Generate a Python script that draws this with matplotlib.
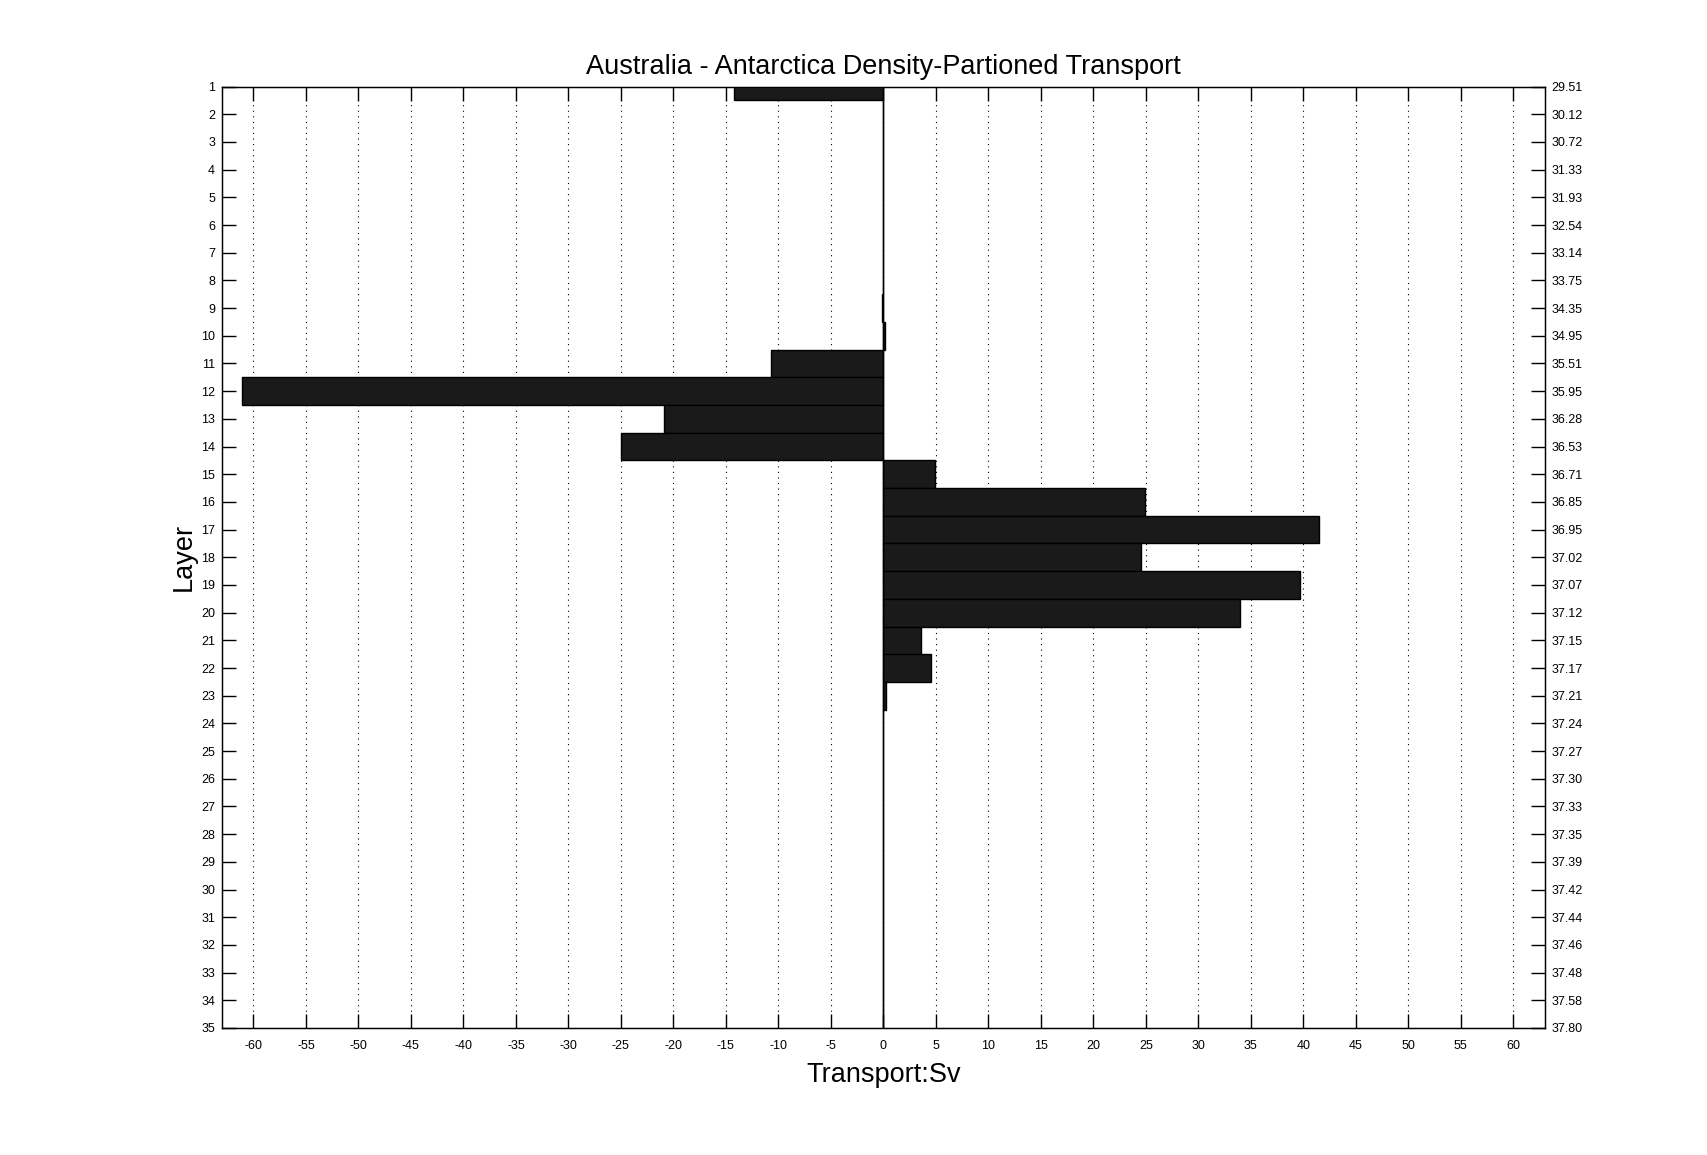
import numpy as np
import matplotlib
matplotlib.use("Agg")
import matplotlib.pyplot as plt

plt.rcParams['font.family'] = ['Liberation Sans', 'DejaVu Sans']
plt.rcParams['axes.unicode_minus'] = False

# layers 1..35 and transport per layer (Sv)
layers = np.arange(1, 36)
transport = [-14.2, 0, 0, 0, 0, 0, 0, 0, -0.1, 0.12,
             -10.7, -61.1, -20.9, -25.0, 4.9, 24.9, 41.5, 24.5, 39.7, 34.0,
             3.55, 4.5, 0.28, 0, 0, 0, 0, 0, 0, 0,
             0, 0, 0, 0, 0]
density_labels = ['29.51', '30.12', '30.72', '31.33', '31.93', '32.54', '33.14',
                  '33.75', '34.35', '34.95', '35.51', '35.95', '36.28', '36.53',
                  '36.71', '36.85', '36.95', '37.02', '37.07', '37.12', '37.15',
                  '37.17', '37.21', '37.24', '37.27', '37.30', '37.33', '37.35',
                  '37.39', '37.42', '37.44', '37.46', '37.48', '37.58', '37.80']
xticks = np.arange(-60, 61, 5)

fig = plt.figure(figsize=(17.07, 11.55), dpi=100)
ax = fig.add_axes([0.13, 0.11, 0.775, 0.815])

ax.barh(layers, transport, height=1.0, color='#1a1a1a', edgecolor='black',
        linewidth=1.0, zorder=3)
ax.axvline(0, color='black', linewidth=1.0, zorder=4)

ax.set_xlim(-63, 63)
ax.set_ylim(35, 1)
ax.set_xticks(xticks)
ax.set_yticks(layers)
ax.xaxis.grid(True, linestyle=(0, (1, 4)), color='black', linewidth=0.8)
ax.set_axisbelow(True)

ax.tick_params(axis='both', direction='in', length=10, width=1,
               labelsize=9, top=True)
ax.tick_params(axis='x', pad=9)
ax.tick_params(axis='y', pad=5)
for s in ax.spines.values():
    s.set_linewidth(1.0)

ax2 = ax.twinx()
ax2.set_ylim(35, 1)
ax2.set_yticks(layers)
ax2.set_yticklabels(density_labels)
ax2.tick_params(axis='y', direction='in', length=10, width=1, labelsize=9, pad=5)

ax.set_title('Australia - Antarctica Density-Partioned Transport', fontsize=19.5, pad=9)
ax.set_xlabel('Transport:Sv', fontsize=19.5, labelpad=7)
ax.set_ylabel('Layer', fontsize=19.5, labelpad=3)

fig.savefig('out.png', dpi=100)
